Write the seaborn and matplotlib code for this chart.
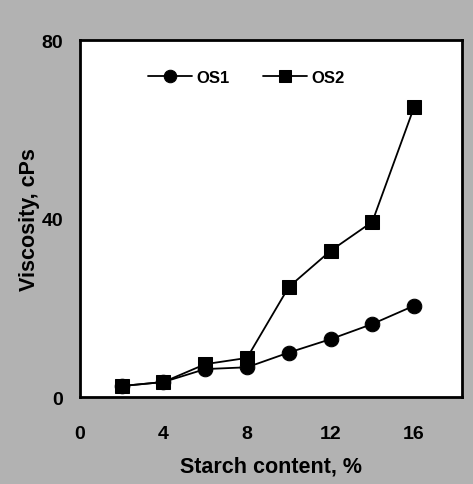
import pandas as pd
import matplotlib
matplotlib.use('Agg')
import matplotlib.pyplot as plt
import seaborn as sns

# Values
starch = [2, 4, 6, 8, 10, 12, 14, 16]
os1_visc = [2.5, 3.4, 6.3, 6.7, 10.0, 13.0, 16.4, 20.5]
os2_visc = [2.5, 3.4, 7.4, 8.8, 24.7, 32.8, 39.3, 65.0]
x_ticks = [0, 4, 8, 12, 16]
y_ticks = [0, 40, 80]

df = pd.DataFrame({
    'Starch': starch * 2,
    'Viscosity': os1_visc + os2_visc,
    'Sample': ['OS1'] * len(starch) + ['OS2'] * len(starch),
})

sns.set_style('white')
plt.rcParams['font.family'] = ['Liberation Sans', 'DejaVu Sans']
plt.rcParams['font.weight'] = 'bold'
plt.rcParams['text.color'] = 'black'
plt.rcParams['axes.labelcolor'] = 'black'

fig = plt.figure(figsize=(4.73, 4.85), dpi=100, facecolor='#b2b2b2')
ax = fig.add_axes([0.169, 0.179, 0.808, 0.736])
ax.set_facecolor('white')

sns.lineplot(data=df, x='Starch', y='Viscosity', hue='Sample', style='Sample',
             markers={'OS1': 'o', 'OS2': 's'}, dashes=False,
             palette={'OS1': 'black', 'OS2': 'black'},
             linewidth=1.3, markersize=10.5, markeredgecolor='black', ax=ax)

ax.set_xlim(0, 18.3)
ax.set_ylim(0, 80)
ax.set_xticks(x_ticks)
ax.set_yticks(y_ticks)
ax.tick_params(direction='in', length=5, width=1.5, colors='black',
               labelcolor='black', labelsize=14)
ax.tick_params(axis='x', pad=20)
ax.tick_params(axis='y', pad=12)
for lab in ax.get_xticklabels() + ax.get_yticklabels():
    lab.set_fontweight('heavy')

for sp in ax.spines.values():
    sp.set_visible(True)
    sp.set_color('black')
    sp.set_linewidth(2)

ax.set_xlabel('Starch content, %', fontsize=15.5, fontweight='heavy',
              color='black', labelpad=10)
ax.set_ylabel('Viscosity, cPs', fontsize=15.5, fontweight='heavy',
              color='black', labelpad=1)

handles, labels = ax.get_legend_handles_labels()
for h in handles:
    h.set_markersize(9)
ax.legend(handles, labels, loc='center left', bbox_to_anchor=(0.14, 0.896),
          ncol=2, frameon=False, handlelength=2.6, handletextpad=0.3,
          columnspacing=2.0, prop={'weight': 'heavy', 'size': 12})

fig.savefig('out.png', dpi=100, facecolor=fig.get_facecolor())
